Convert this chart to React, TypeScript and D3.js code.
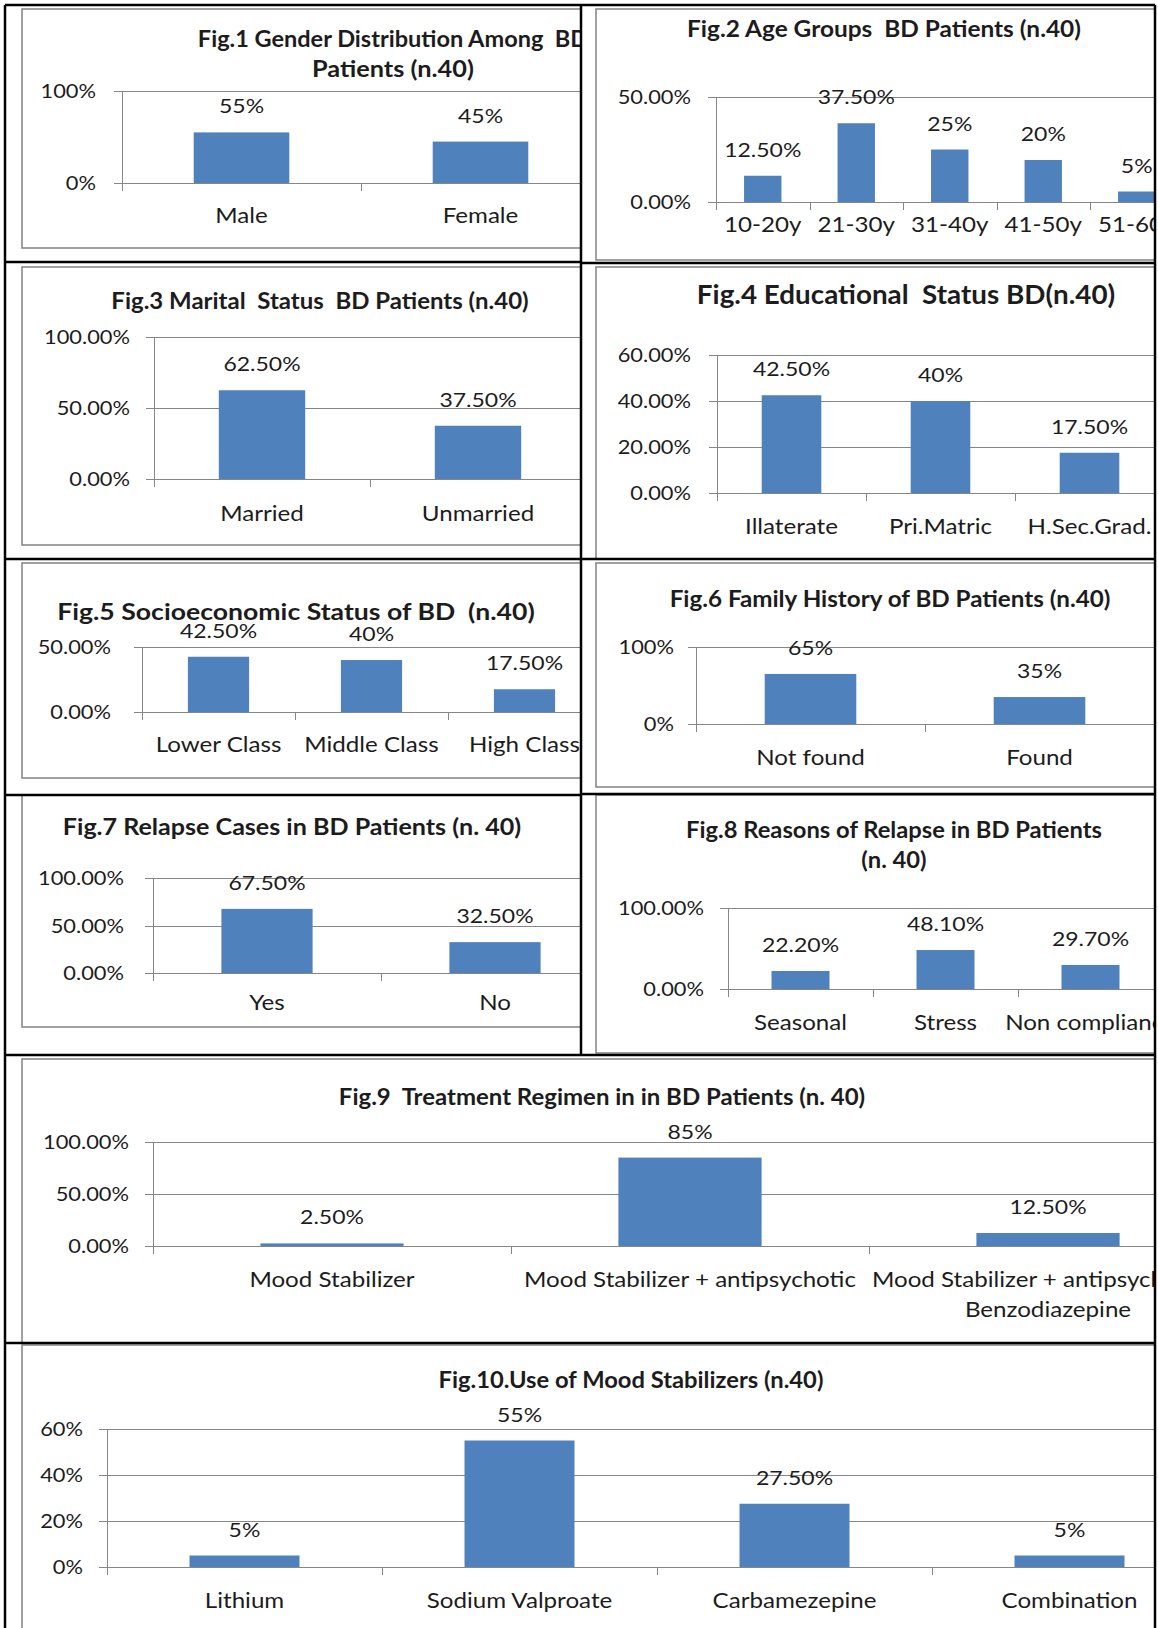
import React from "react"
import * as d3 from "d3"

// ---- data ----
const fig1Categories = ["Male", "Female"]
const fig1Values = [55, 45]
const fig1Ticks = [0, 100]

const fig2Categories = ["10-20y", "21-30y", "31-40y", "41-50y", "51-60y"]
const fig2Values = [12.5, 37.5, 25, 20, 5]
const fig2Ticks = [0, 50]

const fig3Categories = ["Married", "Unmarried"]
const fig3Values = [62.5, 37.5]
const fig3Ticks = [0, 50, 100]

const fig4Categories = ["Illaterate", "Pri.Matric", "H.Sec.Grad."]
const fig4Values = [42.5, 40, 17.5]
const fig4Ticks = [0, 20, 40, 60]

const fig5Categories = ["Lower Class", "Middle Class", "High Class"]
const fig5Values = [42.5, 40, 17.5]
const fig5Ticks = [0, 50]

const fig6Categories = ["Not found", "Found"]
const fig6Values = [65, 35]
const fig6Ticks = [0, 100]

const fig7Categories = ["Yes", "No"]
const fig7Values = [67.5, 32.5]
const fig7Ticks = [0, 50, 100]

const fig8Categories = ["Seasonal", "Stress", "Non compliance"]
const fig8Values = [22.2, 48.1, 29.7]
const fig8Ticks = [0, 100]

const fig9Categories = [
	"Mood Stabilizer",
	"Mood Stabilizer + antipsychotic",
	"Mood Stabilizer + antipsychotic + Benzodiazepine",
]
const fig9Values = [2.5, 85, 12.5]
const fig9Ticks = [0, 50, 100]

const fig10Categories = ["Lithium", "Sodium Valproate", "Carbamezepine", "Combination"]
const fig10Values = [5, 55, 27.5, 5]
const fig10Ticks = [0, 20, 40, 60]

const BAR = "#4F81BD"
const GRID = "#868686"
const INK = "#1c1c1c"
const FONT = "Lato, 'Noto Sans', sans-serif"

type Panel = {
	id: string
	title: string[]
	categories: string[]
	values: number[]
	ticks: number[]
	tickDecimals: number
	cell: number[] // x0, y0, x1, y1 of the table cell
	frame: number[] // left, top, bottom of the grey chart frame
	axisX: number
	step: number
	yTop: number
	yBottom: number
	titleX: number
	titleY: number
	titleSize?: number
	titleSx: number[] // horizontal stretch per title line
	tickRight: number
	catY: number
}

const panels: Panel[] = [
	{
		id: "f1", title: ["Fig.1 Gender Distribution Among  BD", "Patients (n.40)"],
		categories: fig1Categories, values: fig1Values, ticks: fig1Ticks, tickDecimals: 0,
		cell: [5, 5, 581, 262], frame: [22, 9, 248],
		axisX: 122, step: 239, yTop: 91, yBottom: 183,
		titleX: 393, titleY: 47, titleSx: [1.07, 1.15], tickRight: 96, catY: 223,
	},
	{
		id: "f2", title: ["Fig.2 Age Groups  BD Patients (n.40)"],
		categories: fig2Categories, values: fig2Values, ticks: fig2Ticks, tickDecimals: 2,
		cell: [581, 5, 1155, 263], frame: [596, 9, 260],
		axisX: 716, step: 93.5, yTop: 97, yBottom: 202,
		titleX: 884, titleY: 37, titleSx: [1.11], tickRight: 691, catY: 232,
	},
	{
		id: "f3", title: ["Fig.3 Marital  Status  BD Patients (n.40)"],
		categories: fig3Categories, values: fig3Values, ticks: fig3Ticks, tickDecimals: 2,
		cell: [5, 262, 581, 559], frame: [22, 267, 545],
		axisX: 154, step: 216, yTop: 337, yBottom: 479,
		titleX: 320, titleY: 309, titleSx: [1.09], tickRight: 130, catY: 521,
	},
	{
		id: "f4", title: ["Fig.4 Educational  Status BD(n.40)"],
		categories: fig4Categories, values: fig4Values, ticks: fig4Ticks, tickDecimals: 2,
		cell: [581, 263, 1155, 559], frame: [596, 267, 600],
		axisX: 717, step: 149, yTop: 355, yBottom: 493,
		titleX: 906, titleY: 304, titleSize: 26, titleSx: [1.07], tickRight: 691, catY: 534,
	},
	{
		id: "f5", title: ["Fig.5 Socioeconomic Status of BD  (n.40)"],
		categories: fig5Categories, values: fig5Values, ticks: fig5Ticks, tickDecimals: 2,
		cell: [5, 559, 581, 795], frame: [22, 563, 778],
		axisX: 142, step: 153, yTop: 647, yBottom: 712,
		titleX: 296, titleY: 620, titleSx: [1.21], tickRight: 111, catY: 752,
	},
	{
		id: "f6", title: ["Fig.6 Family History of BD Patients (n.40)"],
		categories: fig6Categories, values: fig6Values, ticks: fig6Ticks, tickDecimals: 0,
		cell: [581, 559, 1155, 794], frame: [596, 563, 787],
		axisX: 696, step: 229, yTop: 647, yBottom: 724,
		titleX: 890, titleY: 607, titleSx: [1.1], tickRight: 674, catY: 765,
	},
	{
		id: "f7", title: ["Fig.7 Relapse Cases in BD Patients (n. 40)"],
		categories: fig7Categories, values: fig7Values, ticks: fig7Ticks, tickDecimals: 2,
		cell: [5, 795, 581, 1055], frame: [22, 795, 1027],
		axisX: 153, step: 228, yTop: 878, yBottom: 973,
		titleX: 292, titleY: 835, titleSx: [1.14], tickRight: 124, catY: 1010,
	},
	{
		id: "f8", title: ["Fig.8 Reasons of Relapse in BD Patients", "(n. 40)"],
		categories: fig8Categories, values: fig8Values, ticks: fig8Ticks, tickDecimals: 2,
		cell: [581, 794, 1155, 1054], frame: [596, 795, 1053],
		axisX: 728, step: 145, yTop: 908, yBottom: 989,
		titleX: 894, titleY: 838, titleSx: [1.08, 1.08], tickRight: 704, catY: 1030,
	},
	{
		id: "f9", title: ["Fig.9  Treatment Regimen in in BD Patients (n. 40)"],
		categories: fig9Categories, values: fig9Values, ticks: fig9Ticks, tickDecimals: 2,
		cell: [5, 1055, 1155, 1343], frame: [22, 1059, 1400],
		axisX: 153, step: 358, yTop: 1142, yBottom: 1246,
		titleX: 602, titleY: 1105, titleSx: [1.09], tickRight: 129, catY: 1287,
	},
	{
		id: "f10", title: ["Fig.10.Use of Mood Stabilizers (n.40)"],
		categories: fig10Categories, values: fig10Values, ticks: fig10Ticks, tickDecimals: 0,
		cell: [5, 1343, 1155, 1640], frame: [22, 1345, 1700],
		axisX: 107, step: 275, yTop: 1429, yBottom: 1567,
		titleX: 631, titleY: 1388, titleSx: [1.08], tickRight: 83, catY: 1608,
	},
]

// values shown as 55% or 12.50%, as in the source charts
const valueLabel = (v: number) => (Number.isInteger(v) ? `${v}%` : `${v.toFixed(2)}%`)

// word wrap for long category names
const wrap = (s: string, max: number) => {
	const lines: string[] = []
	let cur = ""
	s.split(" ").forEach(w => {
		const next = cur ? cur + " " + w : w
		if (next.length > max && cur) {
			lines.push(cur)
			cur = w
		} else cur = next
	})
	if (cur) lines.push(cur)
	return lines
}

const Txt = ({ x, y, size, sx = 1, anchor = "middle", bold = false, children }: any) => (
	<text
		transform={`translate(${x},${y}) scale(${sx},1)`}
		textAnchor={anchor}
		fontSize={size}
		fontWeight={bold ? 700 : 400}
		fontFamily={FONT}
		fill={INK}
		style={{ whiteSpace: "pre" }}
	>
		{children}
	</text>
)

const BarPanel = ({ p }: { p: Panel }) => {
	const [c0, r0, c1, r1] = p.cell
	const [fl, ft, fb] = p.frame
	const n = p.categories.length
	const plotRight = p.axisX + p.step * n
	const ymax = p.ticks[p.ticks.length - 1]
	const valueSize = 20
	const catSize = 21
	const tickSize = 19
	const sx = 1.15

	const x = d3
		.scaleBand()
		.domain(p.categories)
		.range([p.axisX, plotRight])
		.paddingInner(0.6)
		.paddingOuter(0.3)
	const y = d3.scaleLinear().domain([0, ymax]).range([p.yBottom, p.yTop])
	const tickFmt = d3.format(`.${p.tickDecimals}f`)
	const px = (v: number) => Math.round(v) + 0.5

	return (
		<g>
			<clipPath id={`clip-${p.id}`}>
				<rect x={c0} y={r0} width={c1 - c0} height={r1 - r0} />
			</clipPath>
			<g clipPath={`url(#clip-${p.id})`}>
				{/* chart frame */}
				<rect
					x={fl}
					y={ft}
					width={c1 + 40 - fl}
					height={fb - ft}
					fill="#fff"
					stroke="#8a8a8a"
					strokeWidth={1.6}
				/>

				{/* title */}
				{p.title.map((t, i) => (
					<Txt
						key={t}
						x={p.titleX}
						y={p.titleY + i * 30}
						size={p.titleSize ?? 22}
						sx={p.titleSx[i] ?? 1}
						bold
					>
						{t}
					</Txt>
				))}

				{/* gridlines and y ticks */}
				{p.ticks.map(t => (
					<line
						key={t}
						x1={p.axisX - 8}
						x2={plotRight}
						y1={px(y(t))}
						y2={px(y(t))}
						stroke={GRID}
						strokeWidth={1}
					/>
				))}
				<line
					x1={px(p.axisX)}
					x2={px(p.axisX)}
					y1={y(ymax)}
					y2={y(0) + 8}
					stroke={GRID}
					strokeWidth={1}
				/>
				{d3.range(1, n + 1).map(i => (
					<line
						key={i}
						x1={px(p.axisX + i * p.step)}
						x2={px(p.axisX + i * p.step)}
						y1={y(0)}
						y2={y(0) + 8}
						stroke={GRID}
						strokeWidth={1}
					/>
				))}

				{/* bars */}
				{p.categories.map((c, i) => (
					<rect
						key={c}
						x={x(c)}
						y={y(p.values[i])}
						width={x.bandwidth()}
						height={y(0) - y(p.values[i])}
						fill={BAR}
					/>
				))}

				{/* value labels */}
				{p.categories.map((c, i) => (
					<Txt
						key={c}
						x={(x(c) as number) + x.bandwidth() / 2}
						y={y(p.values[i]) - 19}
						size={valueSize}
						sx={sx}
					>
						{valueLabel(p.values[i])}
					</Txt>
				))}

				{/* y tick labels */}
				{p.ticks.map(t => (
					<Txt key={t} x={p.tickRight} y={y(t) + 7} size={tickSize} sx={sx} anchor="end">
						{tickFmt(t) + "%"}
					</Txt>
				))}

				{/* category labels */}
				{p.categories.map(c =>
					wrap(c, 34).map((line, j) => (
						<Txt
							key={c + j}
							x={(x(c) as number) + x.bandwidth() / 2}
							y={p.catY + j * 30}
							size={catSize}
							sx={sx}
						>
							{line}
						</Txt>
					)),
				)}
			</g>
		</g>
	)
}

export default function App() {
	const W = 1158
	const H = 1628
	// table rules around the figures
	const rules = [
		[5, 5, 1155, 5],
		[5, 5, 5, H],
		[1155, 5, 1155, H],
		[581, 5, 581, 1055],
		[5, 262, 581, 262],
		[581, 263, 1155, 263],
		[5, 559, 1155, 559],
		[5, 795, 581, 795],
		[581, 794, 1155, 794],
		[5, 1055, 1155, 1055],
		[5, 1343, 1155, 1343],
	]
	return (
		<div style={{ position: "absolute", left: 0, top: 0 }}>
			<svg width={W} height={H} style={{ display: "block", background: "#fff" }}>
				{panels.map(p => (
					<BarPanel key={p.id} p={p} />
				))}
				{rules.map((r, i) => (
					<line key={i} x1={r[0]} y1={r[1]} x2={r[2]} y2={r[3]} stroke="#000" strokeWidth={2.5} />
				))}
			</svg>
		</div>
	)
}
